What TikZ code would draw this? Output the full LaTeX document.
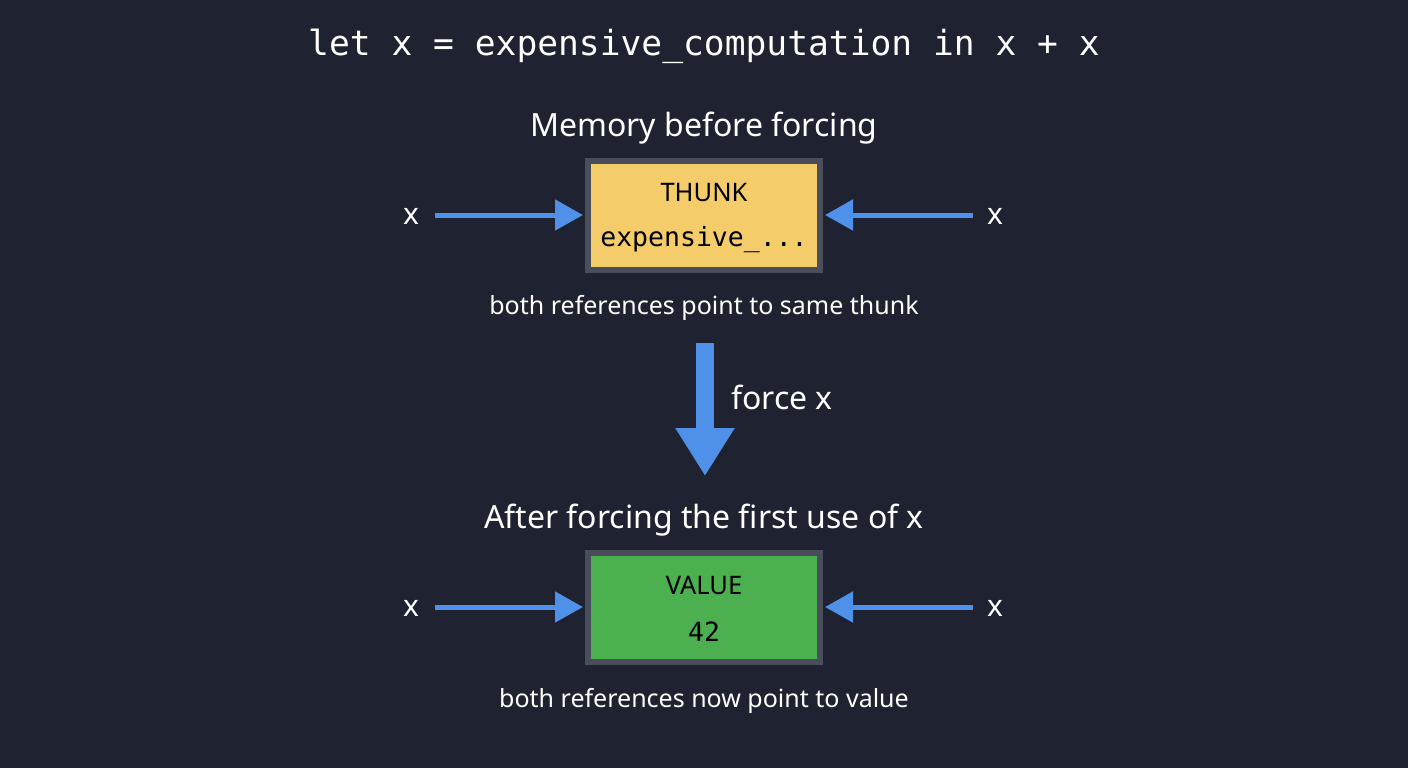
\documentclass[tikz,border=0pt]{standalone}
\usepackage{fontspec}
\setmainfont{Noto Sans}
\setmonofont{DejaVu Sans Mono}
\usetikzlibrary{arrows.meta}
\definecolor{bg}{HTML}{1F2230}
\definecolor{arr}{HTML}{4F90E8}
\definecolor{thk}{HTML}{F4CD6A}
\definecolor{val}{HTML}{4CAF50}
\definecolor{brd}{HTML}{4A4E5A}
\begin{document}
\begin{tikzpicture}[x=1pt,y=-1pt,
  lbl/.style={text=white,inner sep=0pt,anchor=center},
  box/.style={draw=brd,line width=6pt,minimum width=232pt,minimum height=109pt,inner sep=0pt},
  ref/.style={draw=arr,line width=5pt,-{Triangle[length=28pt,width=30pt]},shorten >=2pt}]
\fill[bg] (0,0) rectangle (1408,768);
\useasboundingbox (0,0) rectangle (1408,768);
\node[lbl,font=\fontsize{34.6}{38}\selectfont\ttfamily] (title) at (704,46) {let x = expensive\_computation in x + x};
\node[lbl,font=\fontsize{32}{36}\selectfont] (h1) at (704,128) {Memory before forcing};
\node[box,fill=thk] (thunk) at (704,215) {};
\node[inner sep=0pt,font=\fontsize{25.5}{28}\selectfont] (t1) at (704,193) {THUNK};
\node[inner sep=0pt,font=\fontsize{26.5}{28}\selectfont\ttfamily] (t2) at (704,240) {expensive\_...};
\node[lbl,font=\fontsize{30}{34}\selectfont] (xl1) at (411,216) {x};
\node[lbl,font=\fontsize{30}{34}\selectfont] (xr1) at (995,216) {x};
\coordinate (al1) at (435,215); \coordinate (ar1) at (973,215);
\draw[ref] (al1) -- (thunk.west);
\draw[ref] (ar1) -- (thunk.east);
\node[lbl,font=\fontsize{25}{30}\selectfont] (c1) at (704,308) {both references point to same thunk};
\coordinate (fa) at (705,343); \coordinate (fb) at (705,476);
\draw[arr,line width=18pt,-{Triangle[length=48pt,width=56pt]}] (fa) -- (fb);
\node[lbl,font=\fontsize{32}{36}\selectfont,anchor=west] (fx) at (731,397) {force x};
\node[lbl,font=\fontsize{32}{36}\selectfont] (h2) at (704,520) {After forcing the first use of x};
\node[box,fill=val] (value) at (704,607) {};
\node[inner sep=0pt,font=\fontsize{25.5}{28}\selectfont] (v1) at (704,585) {VALUE};
\node[inner sep=0pt,font=\fontsize{26.5}{28}\selectfont\ttfamily] (v2) at (704,632) {42};
\node[lbl,font=\fontsize{30}{34}\selectfont] (xl2) at (411,608) {x};
\node[lbl,font=\fontsize{30}{34}\selectfont] (xr2) at (995,608) {x};
\coordinate (al2) at (435,607); \coordinate (ar2) at (973,607);
\draw[ref] (al2) -- (value.west);
\draw[ref] (ar2) -- (value.east);
\node[lbl,font=\fontsize{25}{30}\selectfont] (c2) at (704,701) {both references now point to value};
\end{tikzpicture}
\end{document}
